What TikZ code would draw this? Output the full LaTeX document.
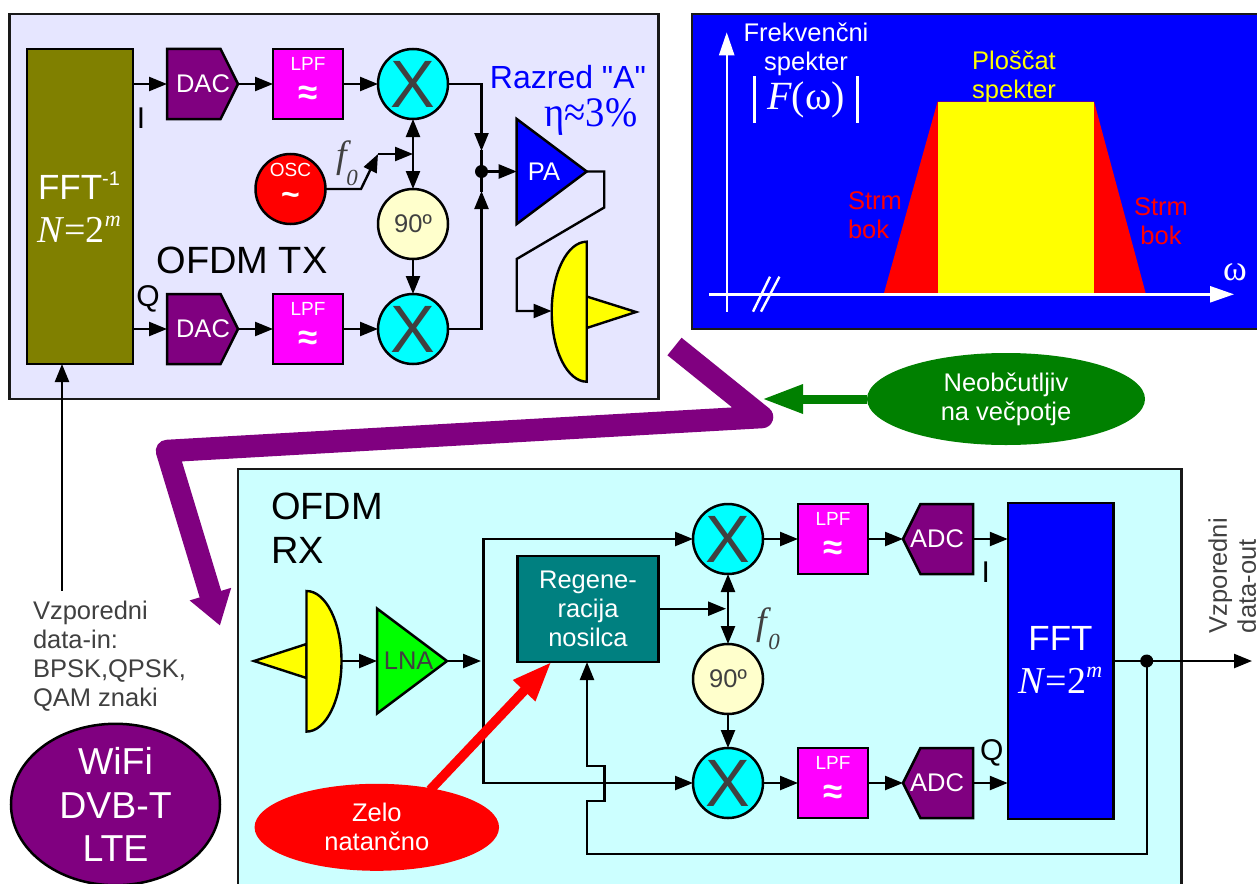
\documentclass[tikz,border=0pt]{standalone}
\usepackage{fontspec}
\setmainfont{Liberation Sans}
\newfontfamily\timesface{Liberation Serif}
\newfontfamily\rawface{Liberation Sans}
\usetikzlibrary{arrows.meta,calc,shapes.geometric,shapes.symbols}
\definecolor{txfill}{HTML}{E6E6FF}
\definecolor{rxfill}{HTML}{CCFFFF}
\definecolor{ink}{HTML}{404040}
\definecolor{grape}{HTML}{800080}
\definecolor{olivebox}{HTML}{808000}
\definecolor{tealbox}{HTML}{008080}
\definecolor{forest}{HTML}{008000}
\definecolor{shiftfill}{HTML}{FFFFCC}
\definecolor{mixfill}{HTML}{00FFFF}
\definecolor{filterfill}{HTML}{FF00FF}
\definecolor{dishfill}{HTML}{FFFF00}
\definecolor{lnafill}{HTML}{00FF00}
\definecolor{hotred}{HTML}{FF0000}
\definecolor{deepblue}{HTML}{0000FF}
\newcommand{\nineteen}{\fontsize{19}{23}\selectfont}
\newcommand{\twentyfive}{\fontsize{25.5}{29}\selectfont}
\newcommand{\thirtyeight}{\fontsize{38}{44}\selectfont}
\newcommand{\fftline}{{\timesface\fontsize{38}{43}\selectfont\textit{N}=2\raisebox{.42em}{\fontsize{22}{22}\selectfont\textit{m}}}}
\tikzset{
 every node/.append style={inner sep=0pt,outer sep=0pt,align=center},
 panel/.style={draw=black!90,line width=2.5pt},
 block/.style={draw=black,line width=2.5pt,text=white,font=\twentyfive},
 word/.style={font=\twentyfive,text=ink},
 boxtext/.style={font=\twentyfive,text=white},
 title/.style={font=\thirtyeight,text=black},
 iqmark/.style={font=\fontsize{30}{30}\selectfont},
 mixer/.style={block,circle,fill=mixfill,minimum size=70pt,text=ink,font=\fontsize{67}{67}\selectfont},
 shifter/.style={block,circle,fill=shiftfill,minimum size=70pt,text=ink},
 filterbox/.style={block,fill=filterfill,minimum width=70pt,minimum height=70pt},
 dacbox/.style={block,fill=grape,signal,signal to=east,signal from=nowhere,signal pointer angle=127,minimum width=71pt,minimum height=70pt,anchor=west},
 adcbox/.style={block,fill=grape,signal,signal to=west,signal from=nowhere,signal pointer angle=127,minimum width=70pt,minimum height=70pt,anchor=east},
 amp/.style={block,isosceles triangle,isosceles triangle stretches,shape border rotate=0,anchor=lower side,minimum width=105pt,minimum height=70pt},
 jdot/.style={circle,fill=black,minimum size=13pt},
 wire/.style={-{Triangle[length=18pt,width=14pt]},draw=black,line width=2.4pt},
 route/.style={draw=black,line width=2.4pt,line cap=rect},
 dish/.style={draw=black,line width=2.4pt,fill=dishfill},
 oval/.style={ellipse,text=white,font=\twentyfive},
 axis/.style={-{Triangle[length=23pt,width=15pt]},draw=white,line width=2.4pt},
}
\newcommand{\lpfbox}[3]{
 \node[filterbox] (#1) at (#2,#3) {};
 \node[font=\nineteen,text=white] (#1t) at (#2,#3+20) {LPF};
 \node[font=\fontsize{35}{35}\selectfont\bfseries,text=white] (#1a) at (#2,#3-11.5) {≈};
}
\begin{document}
\begin{tikzpicture}[x=1pt,y=1pt]

\useasboundingbox (0,0) rectangle (1257,-883);
\fill[white] (0,0) rectangle (1257,-883);
\draw[panel,fill=txfill] (9.3,-14) rectangle (658.5,-399);
\draw[panel,fill=deepblue] (692,-14) rectangle (1265,-329);
\draw[panel,fill=rxfill] (238,-469) rectangle (1181.7,-895);
% transmitter
\node[block,fill=olivebox,minimum width=106pt,minimum height=315pt] (ifft) at (80,-206.5) {};
\node[text=white,font=\fontsize{35}{43}\selectfont] (ifftt) at (79,-207) {FFT\raisebox{.42em}{\fontsize{20}{20}\selectfont -1}\\\fftline};
\node[dacbox] (daci) at (167,-84) {};
\node[dacbox] (dacq) at (167,-329) {};
\node[boxtext] (dacit) at (203,-84) {DAC};
\node[boxtext] (dacqt) at (203,-329) {DAC};
\lpfbox{lpfi}{308}{-84}
\lpfbox{lpfq}{308}{-329}
\node[mixer] (mixi) at (413,-84) {X};
\node[mixer] (mixq) at (413,-329) {X};
\node[block,circle,fill=hotred,minimum size=70pt] (osc) at (290.5,-189) {};
\node[font=\nineteen,text=white] (osct) at (290.5,-170) {OSC};
\node[font=\fontsize{32}{32}\selectfont\bfseries,text=white] (osca) at (290.5,-199) {\char`\~};
\node[shifter] (shift) at (413,-224) {90º};
\node[jdot] (jtx) at (481.5,-171.5) {};
\node[amp,fill=deepblue] (pa) at (516.7,-171.5) {};
\node[boxtext] (pat) at (544,-172) {PA};
\node[font=\rawface\fontsize{32}{36}\selectfont,text=deepblue] (razred) at (568,-77) {Razred "A"};
\node[font=\timesface\fontsize{42}{42}\selectfont,text=deepblue] (eta) at (591,-117) {\scalebox{.92}[1]{η≈3\%}};
\node[title] (tx) at (242,-260) {OFDM TX};
\node[iqmark] (ilab) at (141,-118) {I};
\node[iqmark] (qlab) at (148,-299) {Q};
\node[text=ink,font=\timesface\itshape\fontsize{38}{38}\selectfont] (ftx) at (342,-158) {\textit{f}};
\node[text=ink,font=\timesface\itshape\fontsize{23}{23}\selectfont] (ftxo) at (352,-178) {0};
\coordinate (kink) at (361,-189);
\coordinate (lift) at (378,-154);
\coordinate (tap) at (413,-154);
\coordinate (upin) at (481.5,-151);
\coordinate (dnin) at (481.5,-191);
\coordinate (dishin) at (551.5,-311);
\draw[wire] (ifft.east |- daci.west) -- (daci.west);
\draw[wire] (ifft.east |- dacq.west) -- (dacq.west);
\foreach \a/\b in {daci/lpfi,lpfi/mixi,dacq/lpfq,lpfq/mixq}{
 \draw[wire] (\a.east) -- (\b.west);
}
\draw[wire] (jtx) -- (pa.lower side);
\draw[wire] (shift.south) -- (mixq.north);
\draw[wire] (osc.east) -- (kink) -- (lift);
\draw[wire] (lift) -- (tap);
\draw[wire] (tap) -- (mixi.south);
\draw[wire] (tap) -- (shift.north);
\draw[wire] (mixi.east) -| (upin);
\draw[route] (upin) -- (jtx);
\draw[wire] (mixq.east) -| (dnin);
\draw[route] (dnin) -- (jtx);
\draw[wire] (pa.apex) -- ++(17.5,0) -- ++(0,-36) -- (516.7,-259) |- (dishin);
\draw[dish] (586.7,-296.5) -- (636,-312) -- (586.7,-328) -- cycle;
\draw[dish] (586.7,-241.7) arc[start angle=90,end angle=270,x radius=35,y radius=70] -- cycle;
% input side
\node[word,align=left,anchor=north west] (datain) at (33,-601.5) {Vzporedni\\data-in:\\BPSK,QPSK,\\QAM znaki};
\coordinate (datafrom) at (62,-590.7);
\draw[wire] (datafrom) -- (datafrom |- ifft.south);
\node[ellipse,draw=black,line width=2.5pt,fill=grape,minimum width=209pt,minimum height=154pt,text=white,font=\fontsize{37.5}{43.5}\selectfont] (wifi) at (115.5,-804.5) {WiFi\\DVB-T\\LTE};
% spectrum
\fill[hotred] (884,-293) -- (937.6,-101.5) -- (1094,-101.5) -- (1145.6,-293) -- cycle;
\fill[dishfill] (937.6,-101.5) rectangle (1094,-293);
\coordinate (ybase) at (726.7,-311.7);
\coordinate (ytop) at (726.7,-32.3);
\coordinate (xbase) at (709.4,-294.3);
\coordinate (xtip) at (1234,-294.3);
\draw[axis] (ybase) -- (ytop);
\draw[axis,-{Triangle[length=24pt,width=16pt]}] (xbase) -- (xtip);
\draw[draw=white,line width=2.4pt] (753,-311.7) -- (770,-276.7);
\draw[draw=white,line width=2.4pt] (761,-311.7) -- (779.4,-276.7);
\draw[draw=white,line width=3pt] (754.3,-76) -- (754.3,-122.7);
\draw[draw=white,line width=3pt] (857.4,-76) -- (857.4,-122.7);
\node[font=\twentyfive,text=white] (spek) at (806,-49.5) {Frekvenčni\\spekter};
\node[text=white,font=\timesface\fontsize{40}{40}\selectfont] (fom) at (806,-100) {\textit{F}(ω)};
\node[font=\twentyfive,text=dishfill] (flat) at (1014,-77) {Ploščat\\spekter};
\node[font=\twentyfive,text=hotred,align=left,anchor=west] (sidel) at (848,-215.5) {Strm\\bok};
\node[font=\twentyfive,text=hotred] (sider) at (1161,-221.5) {Strm\\bok};
\node[text=white,font=\timesface\fontsize{36}{36}\selectfont] (omega) at (1235,-272) {ω};
% link between the two
\coordinate (linka) at (674.5,-346.5);
\coordinate (linkb) at (762,-417);
\coordinate (linkc) at (167,-451);
\coordinate (linkd) at (220,-625.7);
\draw[draw=grape,line width=22.5pt,line join=round,-{Triangle[length=33pt,width=41pt]}] (linka) -- (linkb) -- (linkc) -- (linkd);
\node[oval,fill=forest,minimum width=278pt,minimum height=92pt] (multi) at (1006,-399) {Neobčutljiv\\na večpotje};
\coordinate (multitip) at (762,-399);
\draw[draw=forest,line width=9pt,-{Triangle[length=41pt,width=27pt]}] (multi.west) -- (multitip);
% receiver
\node[title,align=left,anchor=north west] (rx) at (271,-493) {OFDM\\RX};
\draw[dish] (306.5,-644) -- (254,-661) -- (306.5,-678) -- cycle;
\draw[dish] (306.5,-591) arc[start angle=90,end angle=-90,x radius=35,y radius=70.3] -- cycle;
\coordinate (dishout) at (341.5,-661);
\node[amp,fill=lnafill] (lna) at (377,-661) {};
\node[font=\twentyfive,text=ink] (lnat) at (408.7,-661) {LNA};
\coordinate (split) at (483.5,-661);
\coordinate (splita) at (483.5,-539);
\coordinate (splitb) at (483.5,-783);
\node[mixer] (mixa) at (728,-539) {X};
\node[mixer] (mixb) at (728,-783) {X};
\node[shifter] (shiftr) at (728,-679) {90º};
\node[block,fill=tealbox,minimum width=141pt,minimum height=106pt] (regen) at (588,-609) {Regene-\\racija\\nosilca};
\lpfbox{lpfa}{833}{-539}
\lpfbox{lpfb}{833}{-783}
\node[adcbox] (adca) at (973,-539) {};
\node[adcbox] (adcb) at (973,-783) {};
\node[boxtext] (adcat) at (937,-539) {ADC};
\node[boxtext] (adcbt) at (937,-783) {ADC};
\node[block,fill=deepblue,minimum width=105.5pt,minimum height=316pt] (fftr) at (1060.5,-661) {};
\node[text=white,font=\fontsize{35}{43}\selectfont] (fftrt) at (1060.5,-660) {FFT\\\fftline};
\node[iqmark] (ilabr) at (985.7,-571.7) {I};
\node[iqmark] (qlabr) at (991.7,-753) {Q};
\node[text=ink,font=\timesface\itshape\fontsize{38}{38}\selectfont] (frx) at (762,-625) {\textit{f}};
\node[text=ink,font=\timesface\itshape\fontsize{23}{23}\selectfont] (frxo) at (774,-642) {0};
\node[jdot] (jrx) at (1146.7,-661) {};
\node[word,rotate=90,anchor=south west,align=left] (dataout) at (1256,-633) {Vzporedni\\data-out};
\coordinate (outtip) at (1252,-661);
\coordinate (tapr) at (728,-608.7);
\coordinate (fbin) at (587,-662);
\draw[wire] (dishout) -- (lna.lower side);
\draw[wire] (lna.apex) -- ($(split)+(-2.5,0)$);
\draw[route] (splita) -- (splitb);
\draw[wire] (splita) -- (mixa.west);
\draw[wire] (splitb) -- (mixb.west);
\draw[wire] (regen.east |- tapr) -- ($(tapr)+(-2,0)$);
\draw[wire] (tapr) -- (mixa.south);
\draw[wire] (tapr) -- (shiftr.north);
\draw[wire] (shiftr.south) -- (mixb.north);
\draw[wire] (mixa.east) -- (lpfa.west);
\draw[wire] (mixb.east) -- (lpfb.west);
\draw[wire] (lpfa.east) -- (adca.west);
\draw[wire] (lpfb.east) -- (adcb.west);
\draw[wire] (adca.east) -- (fftr.west |- adca.east);
\draw[wire] (adcb.east) -- (fftr.west |- adcb.east);
\draw[wire] (fftr.east) -- (outtip);
\draw[wire] (jrx.center) -- (1146.7,-854) -- (587,-854) -- (587,-801) -- (604.3,-801) -- (604.3,-766) -- (587,-766) -- (fbin);
% accuracy callout
\node[oval,fill=hotred,minimum width=244.5pt,minimum height=87pt] (acc) at (376.8,-827.3) {Zelo\\natančno};
\coordinate (accfrom) at (430,-790);
\coordinate (acctip) at (551.6,-661.7);
\draw[draw=hotred,line width=9.5pt,-{Triangle[length=40pt,width=28pt]}] (accfrom) -- (acctip);

\end{tikzpicture}
\end{document}
